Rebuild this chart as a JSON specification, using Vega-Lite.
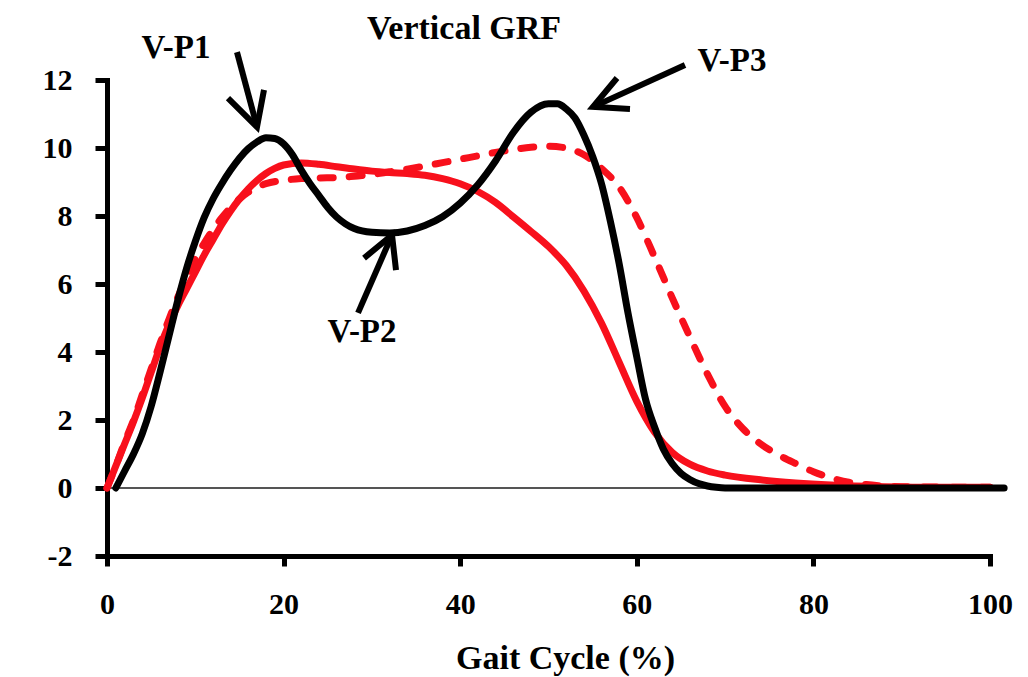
{
  "$schema": "https://vega.github.io/schema/vega-lite/v6.json",
  "width": 883,
  "height": 476,
  "autosize": {"type": "none"},
  "padding": {"left": 107, "top": 80, "right": 38, "bottom": 121},
  "background": "white",
  "config": {"view": {"stroke": null}, "font": "Liberation Serif, Times New Roman, serif"},
  "datasets": {
    "grf": [
      {"series": "black", "x": 1, "y": 0}, {"series": "black", "x": 2, "y": 0.5}, {"series": "black", "x": 3, "y": 1.0}, {"series": "black", "x": 4, "y": 1.6}, {"series": "black", "x": 5, "y": 2.4}, {"series": "black", "x": 6, "y": 3.4}, {"series": "black", "x": 7, "y": 4.45}, {"series": "black", "x": 8, "y": 5.5}, {"series": "black", "x": 9, "y": 6.45}, {"series": "black", "x": 10, "y": 7.25}, {"series": "black", "x": 11, "y": 7.95}, {"series": "black", "x": 12, "y": 8.5}, {"series": "black", "x": 13, "y": 8.95}, {"series": "black", "x": 14, "y": 9.35}, {"series": "black", "x": 15, "y": 9.7}, {"series": "black", "x": 16, "y": 9.98}, {"series": "black", "x": 17, "y": 10.18}, {"series": "black", "x": 18, "y": 10.3}, {"series": "black", "x": 19, "y": 10.28}, {"series": "black", "x": 20, "y": 10.12}, {"series": "black", "x": 21, "y": 9.8}, {"series": "black", "x": 22, "y": 9.35}, {"series": "black", "x": 23, "y": 8.95}, {"series": "black", "x": 24, "y": 8.6}, {"series": "black", "x": 25, "y": 8.25}, {"series": "black", "x": 26, "y": 7.97}, {"series": "black", "x": 27, "y": 7.77}, {"series": "black", "x": 28, "y": 7.63}, {"series": "black", "x": 30, "y": 7.52}, {"series": "black", "x": 32, "y": 7.5}, {"series": "black", "x": 34, "y": 7.56}, {"series": "black", "x": 36, "y": 7.72}, {"series": "black", "x": 38, "y": 7.98}, {"series": "black", "x": 40, "y": 8.38}, {"series": "black", "x": 42, "y": 8.92}, {"series": "black", "x": 44, "y": 9.62}, {"series": "black", "x": 46, "y": 10.45}, {"series": "black", "x": 48, "y": 11.05}, {"series": "black", "x": 50, "y": 11.3}, {"series": "black", "x": 51, "y": 11.3}, {"series": "black", "x": 52, "y": 11.15}, {"series": "black", "x": 53, "y": 10.88}, {"series": "black", "x": 54, "y": 10.38}, {"series": "black", "x": 55, "y": 9.75}, {"series": "black", "x": 56, "y": 8.95}, {"series": "black", "x": 57, "y": 7.85}, {"series": "black", "x": 58, "y": 6.6}, {"series": "black", "x": 59, "y": 5.15}, {"series": "black", "x": 60, "y": 3.85}, {"series": "black", "x": 61, "y": 2.6}, {"series": "black", "x": 62, "y": 1.8}, {"series": "black", "x": 63, "y": 1.15}, {"series": "black", "x": 64, "y": 0.72}, {"series": "black", "x": 65, "y": 0.43}, {"series": "black", "x": 66, "y": 0.25}, {"series": "black", "x": 67, "y": 0.13}, {"series": "black", "x": 68, "y": 0.06}, {"series": "black", "x": 69, "y": 0.02}, {"series": "black", "x": 70, "y": 0}, {"series": "black", "x": 85, "y": 0}, {"series": "black", "x": 101.6, "y": 0},
      {"series": "red_solid", "x": 0, "y": 0}, {"series": "red_solid", "x": 1, "y": 0.65}, {"series": "red_solid", "x": 2, "y": 1.3}, {"series": "red_solid", "x": 3, "y": 1.95}, {"series": "red_solid", "x": 4, "y": 2.65}, {"series": "red_solid", "x": 5, "y": 3.4}, {"series": "red_solid", "x": 6, "y": 4.15}, {"series": "red_solid", "x": 7, "y": 4.8}, {"series": "red_solid", "x": 8, "y": 5.35}, {"series": "red_solid", "x": 9, "y": 5.85}, {"series": "red_solid", "x": 10, "y": 6.35}, {"series": "red_solid", "x": 11, "y": 6.85}, {"series": "red_solid", "x": 12, "y": 7.3}, {"series": "red_solid", "x": 13, "y": 7.75}, {"series": "red_solid", "x": 14, "y": 8.15}, {"series": "red_solid", "x": 15, "y": 8.5}, {"series": "red_solid", "x": 16, "y": 8.8}, {"series": "red_solid", "x": 17, "y": 9.05}, {"series": "red_solid", "x": 18, "y": 9.25}, {"series": "red_solid", "x": 19, "y": 9.4}, {"series": "red_solid", "x": 20, "y": 9.5}, {"series": "red_solid", "x": 22, "y": 9.56}, {"series": "red_solid", "x": 24, "y": 9.52}, {"series": "red_solid", "x": 26, "y": 9.45}, {"series": "red_solid", "x": 28, "y": 9.38}, {"series": "red_solid", "x": 30, "y": 9.32}, {"series": "red_solid", "x": 32, "y": 9.28}, {"series": "red_solid", "x": 34, "y": 9.25}, {"series": "red_solid", "x": 36, "y": 9.2}, {"series": "red_solid", "x": 38, "y": 9.1}, {"series": "red_solid", "x": 40, "y": 8.95}, {"series": "red_solid", "x": 42, "y": 8.72}, {"series": "red_solid", "x": 44, "y": 8.4}, {"series": "red_solid", "x": 46, "y": 7.98}, {"series": "red_solid", "x": 48, "y": 7.55}, {"series": "red_solid", "x": 50, "y": 7.1}, {"series": "red_solid", "x": 52, "y": 6.55}, {"series": "red_solid", "x": 54, "y": 5.8}, {"series": "red_solid", "x": 56, "y": 4.85}, {"series": "red_solid", "x": 58, "y": 3.7}, {"series": "red_solid", "x": 60, "y": 2.55}, {"series": "red_solid", "x": 62, "y": 1.65}, {"series": "red_solid", "x": 64, "y": 1.05}, {"series": "red_solid", "x": 66, "y": 0.7}, {"series": "red_solid", "x": 68, "y": 0.5}, {"series": "red_solid", "x": 70, "y": 0.38}, {"series": "red_solid", "x": 74, "y": 0.24}, {"series": "red_solid", "x": 78, "y": 0.15}, {"series": "red_solid", "x": 82, "y": 0.09}, {"series": "red_solid", "x": 88, "y": 0.04}, {"series": "red_solid", "x": 94, "y": 0.02}, {"series": "red_solid", "x": 100, "y": 0.02},
      {"series": "red_dashed", "x": 0, "y": 0}, {"series": "red_dashed", "x": 1, "y": 0.65}, {"series": "red_dashed", "x": 2, "y": 1.35}, {"series": "red_dashed", "x": 3, "y": 2.0}, {"series": "red_dashed", "x": 4, "y": 2.75}, {"series": "red_dashed", "x": 5, "y": 3.5}, {"series": "red_dashed", "x": 6, "y": 4.25}, {"series": "red_dashed", "x": 7, "y": 4.95}, {"series": "red_dashed", "x": 8, "y": 5.6}, {"series": "red_dashed", "x": 9, "y": 6.2}, {"series": "red_dashed", "x": 10, "y": 6.75}, {"series": "red_dashed", "x": 11, "y": 7.2}, {"series": "red_dashed", "x": 12, "y": 7.6}, {"series": "red_dashed", "x": 13, "y": 7.95}, {"series": "red_dashed", "x": 14, "y": 8.25}, {"series": "red_dashed", "x": 15, "y": 8.5}, {"series": "red_dashed", "x": 16, "y": 8.7}, {"series": "red_dashed", "x": 17, "y": 8.85}, {"series": "red_dashed", "x": 18, "y": 8.95}, {"series": "red_dashed", "x": 20, "y": 9.05}, {"series": "red_dashed", "x": 22, "y": 9.1}, {"series": "red_dashed", "x": 24, "y": 9.12}, {"series": "red_dashed", "x": 26, "y": 9.13}, {"series": "red_dashed", "x": 28, "y": 9.17}, {"series": "red_dashed", "x": 30, "y": 9.22}, {"series": "red_dashed", "x": 32, "y": 9.3}, {"series": "red_dashed", "x": 34, "y": 9.38}, {"series": "red_dashed", "x": 36, "y": 9.47}, {"series": "red_dashed", "x": 38, "y": 9.57}, {"series": "red_dashed", "x": 40, "y": 9.67}, {"series": "red_dashed", "x": 42, "y": 9.77}, {"series": "red_dashed", "x": 44, "y": 9.87}, {"series": "red_dashed", "x": 46, "y": 9.95}, {"series": "red_dashed", "x": 48, "y": 10.02}, {"series": "red_dashed", "x": 50, "y": 10.05}, {"series": "red_dashed", "x": 52, "y": 10.0}, {"series": "red_dashed", "x": 54, "y": 9.8}, {"series": "red_dashed", "x": 56, "y": 9.4}, {"series": "red_dashed", "x": 58, "y": 8.85}, {"series": "red_dashed", "x": 60, "y": 7.95}, {"series": "red_dashed", "x": 62, "y": 6.8}, {"series": "red_dashed", "x": 64, "y": 5.6}, {"series": "red_dashed", "x": 66, "y": 4.45}, {"series": "red_dashed", "x": 68, "y": 3.35}, {"series": "red_dashed", "x": 70, "y": 2.4}, {"series": "red_dashed", "x": 72, "y": 1.75}, {"series": "red_dashed", "x": 74, "y": 1.3}, {"series": "red_dashed", "x": 76, "y": 0.98}, {"series": "red_dashed", "x": 78, "y": 0.72}, {"series": "red_dashed", "x": 80, "y": 0.48}, {"series": "red_dashed", "x": 82, "y": 0.3}, {"series": "red_dashed", "x": 84, "y": 0.17}, {"series": "red_dashed", "x": 86, "y": 0.1}, {"series": "red_dashed", "x": 88, "y": 0.06}, {"series": "red_dashed", "x": 92, "y": 0.03}, {"series": "red_dashed", "x": 100, "y": 0.02}
    ],
    "arrows": [
      {"seg": "p1_shaft", "o": 0, "x": 14.72, "y": 12.82}, {"seg": "p1_shaft", "o": 1, "x": 16.99, "y": 10.62},
      {"seg": "p1_head", "o": 0, "x": 13.7, "y": 11.47}, {"seg": "p1_head", "o": 1, "x": 16.99, "y": 10.62}, {"seg": "p1_head", "o": 2, "x": 17.78, "y": 11.71},
      {"seg": "p2_shaft", "o": 0, "x": 28.43, "y": 5.15}, {"seg": "p2_shaft", "o": 1, "x": 32.28, "y": 7.44},
      {"seg": "p2_head", "o": 0, "x": 29.11, "y": 6.76}, {"seg": "p2_head", "o": 1, "x": 32.28, "y": 7.44}, {"seg": "p2_head", "o": 2, "x": 32.73, "y": 6.41},
      {"seg": "p3_shaft", "o": 0, "x": 65.46, "y": 12.44}, {"seg": "p3_shaft", "o": 1, "x": 55.04, "y": 11.21},
      {"seg": "p3_head", "o": 0, "x": 57.76, "y": 12.06}, {"seg": "p3_head", "o": 1, "x": 55.04, "y": 11.21}, {"seg": "p3_head", "o": 2, "x": 59.23, "y": 11.15}
    ],
    "labels": [
      {"kind": "title", "label": "Vertical GRF", "x": 40.43, "y": 13.51},
      {"kind": "peak", "label": "V-P1", "x": 7.81, "y": 12.93},
      {"kind": "peak", "label": "V-P2", "x": 28.88, "y": 4.59},
      {"kind": "peak", "label": "V-P3", "x": 70.78, "y": 12.57}
    ]
  },
  "encoding": {
    "x": {
      "field": "x", "type": "quantitative",
      "scale": {"domain": [0, 100], "nice": false, "zero": false},
      "axis": {
        "values": [0, 20, 40, 60, 80, 100], "grid": false,
        "domainColor": "black", "domainWidth": 5, "domainCap": "square",
        "tickColor": "black", "tickWidth": 5, "tickSize": 10,
        "labelFont": "Liberation Serif, Times New Roman, serif", "labelFontSize": 30, "labelFontWeight": "bold", "labelColor": "black",
        "labelPadding": 23, "labelFlush": false, "labelOverlap": false,
        "title": "Gait Cycle (%)", "titleFont": "Liberation Serif, Times New Roman, serif", "titleFontSize": 34, "titleFontWeight": "bold",
        "titleColor": "black", "titleX": 458, "titleY": 112, "titleBaseline": "alphabetic", "titleAlign": "center"
      }
    },
    "y": {
      "field": "y", "type": "quantitative",
      "scale": {"domain": [-2, 12], "nice": false, "zero": false},
      "axis": {
        "values": [-2, 0, 2, 4, 6, 8, 10, 12], "grid": false,
        "labelExpr": "datum.value",
        "domainColor": "black", "domainWidth": 5, "domainCap": "square",
        "tickColor": "black", "tickWidth": 5, "tickSize": 12,
        "labelFont": "Liberation Serif, Times New Roman, serif", "labelFontSize": 30, "labelFontWeight": "bold", "labelColor": "black",
        "labelPadding": 23, "labelFlush": false, "labelOverlap": false,
        "title": null
      }
    }
  },
  "layer": [
    {
      "data": {"values": [{"x": 0, "x2": 100, "y": 0}]},
      "mark": {"type": "rule", "color": "#555555", "strokeWidth": 2},
      "encoding": {"x2": {"field": "x2"}}
    },
    {
      "data": {"name": "grf"},
      "transform": [{"filter": "datum.series == 'red_solid'"}],
      "mark": {"type": "line", "color": "#f8101c", "strokeWidth": 7, "interpolate": "monotone", "strokeCap": "round"}
    },
    {
      "data": {"name": "grf"},
      "transform": [{"filter": "datum.series == 'red_dashed'"}],
      "mark": {"type": "line", "color": "#f8101c", "strokeWidth": 7, "interpolate": "monotone", "strokeCap": "round", "strokeDash": [13, 16]}
    },
    {
      "data": {"name": "grf"},
      "transform": [{"filter": "datum.series == 'black'"}],
      "mark": {"type": "line", "color": "black", "strokeWidth": 7, "interpolate": "monotone", "strokeCap": "round"}
    },
    {
      "data": {"name": "arrows"},
      "mark": {"type": "line", "color": "black", "strokeWidth": 6, "strokeCap": "butt", "strokeJoin": "miter"},
      "encoding": {"detail": {"field": "seg"}, "order": {"field": "o", "type": "quantitative"}}
    },
    {
      "data": {"name": "labels"},
      "transform": [{"filter": "datum.kind == 'peak'"}],
      "mark": {"type": "text", "font": "Liberation Serif, Times New Roman, serif", "fontSize": 33, "fontWeight": "bold", "color": "black", "align": "center", "baseline": "middle"},
      "encoding": {"text": {"field": "label"}}
    },
    {
      "data": {"name": "labels"},
      "transform": [{"filter": "datum.kind == 'title'"}],
      "mark": {"type": "text", "font": "Liberation Serif, Times New Roman, serif", "fontSize": 34, "fontWeight": "bold", "color": "black", "align": "center", "baseline": "middle"},
      "encoding": {"text": {"field": "label"}}
    }
  ]
}
